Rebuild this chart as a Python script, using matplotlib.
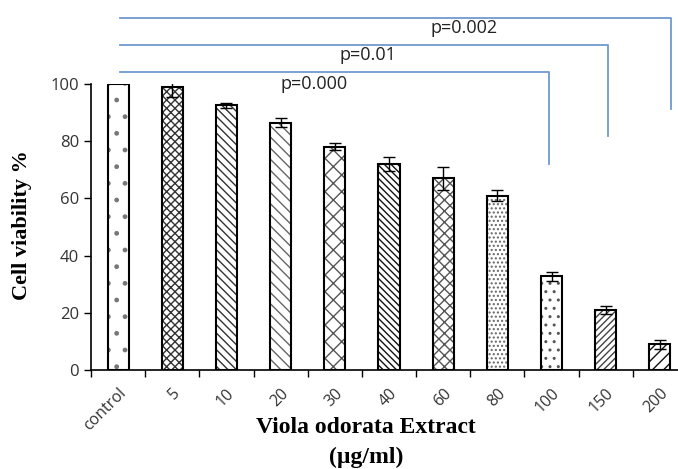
import matplotlib
matplotlib.use("Agg")
import matplotlib.pyplot as plt
import numpy as np

categories = ["control", "5", "10", "20", "30", "40", "60", "80", "100", "150", "200"]
viability = [100, 99, 92.5, 86.5, 78, 72, 67, 61, 32.7, 21, 9]
errors = [0, 3.5, 1.0, 1.5, 1.2, 2.5, 4.0, 2.0, 1.6, 1.5, 1.5]
hatches = [".", "xxxx", "\\\\\\\\", "\\\\\\", "xx", "\\\\\\\\\\", "xxx",
           "....", "..", "/////", "///"]
hatch_colors = ["#777777", "#333333", "#333333", "#666666", "#555555",
                "#111111", "#555555", "#666666", "#555555", "#444444",
                "#111111"]

# comparison brackets: end position, bar height, drop height, label, label x, label y
brackets = [(7.95, 104.2, 72.0, "p=0.000", 3.62, 103.3),
            (9.05, 113.7, 81.8, "p=0.01", 4.62, 113.3),
            (10.2, 123.2, 91.2, "p=0.002", 6.38, 122.6)]
bracket_color = "#6f98d0"

plt.rcParams["font.family"] = ["Open Sans", "DejaVu Sans"]

fig = plt.figure(figsize=(6.78, 4.69), dpi=100)
ax = fig.add_axes([0.1342, 0.2111, 0.879, 0.6098])

x = np.arange(len(categories))
width = 0.39
for i in range(len(categories)):
    ax.bar(x[i], viability[i], width, color="white", edgecolor=hatch_colors[i],
           hatch=hatches[i], linewidth=0, zorder=2)
    ax.bar(x[i], viability[i], width, color="none", edgecolor="black",
           linewidth=1.5, zorder=3)
ax.errorbar(x[1:], viability[1:], yerr=errors[1:], fmt="none", ecolor="black",
            elinewidth=1, capsize=4, capthick=1, zorder=4)

for x_end, y_top, y_drop, label, x_text, y_text in brackets:
    ax.plot([0.03, x_end, x_end], [y_top, y_top, y_drop], color=bracket_color,
            lw=1.3, clip_on=False, zorder=5)
    ax.text(x_text, y_text, label, ha="center", va="top", fontsize=13,
            color="#222222")

ax.set_xlim(-0.5, len(categories) - 0.5)
ax.set_ylim(0, 100)
ax.set_yticks(np.arange(0, 101, 20))
ax.set_xticks(np.arange(-0.5, len(categories), 1.0))
ax.set_xticklabels([])
ax.set_xticks(x, minor=True)
ax.set_xticklabels(categories, minor=True, rotation=45, ha="right",
                   rotation_mode="anchor", fontsize=11.5, color="#333333")
ax.tick_params(axis="x", which="minor", length=0, pad=11)
ax.tick_params(axis="x", which="major", length=5, width=1)
ax.tick_params(axis="y", length=5, width=1, labelsize=12, labelcolor="#333333")
for side in ["top", "right"]:
    ax.spines[side].set_visible(False)
for side in ["left", "bottom"]:
    ax.spines[side].set_linewidth(1.2)

fig.text(0.033, 0.52, "Cell viability %", family="Liberation Serif",
         fontweight="bold", fontsize=16, rotation=90, ha="center", va="center")
fig.text(0.54, 0.088, "Viola odorata Extract", family="Liberation Serif",
         fontweight="bold", fontsize=17, ha="center", va="center")
fig.text(0.54, 0.025, "(\u00b5g/ml)", family="Liberation Serif",
         fontweight="bold", fontsize=17, ha="center", va="center")

fig.savefig("out.png", dpi=100)
